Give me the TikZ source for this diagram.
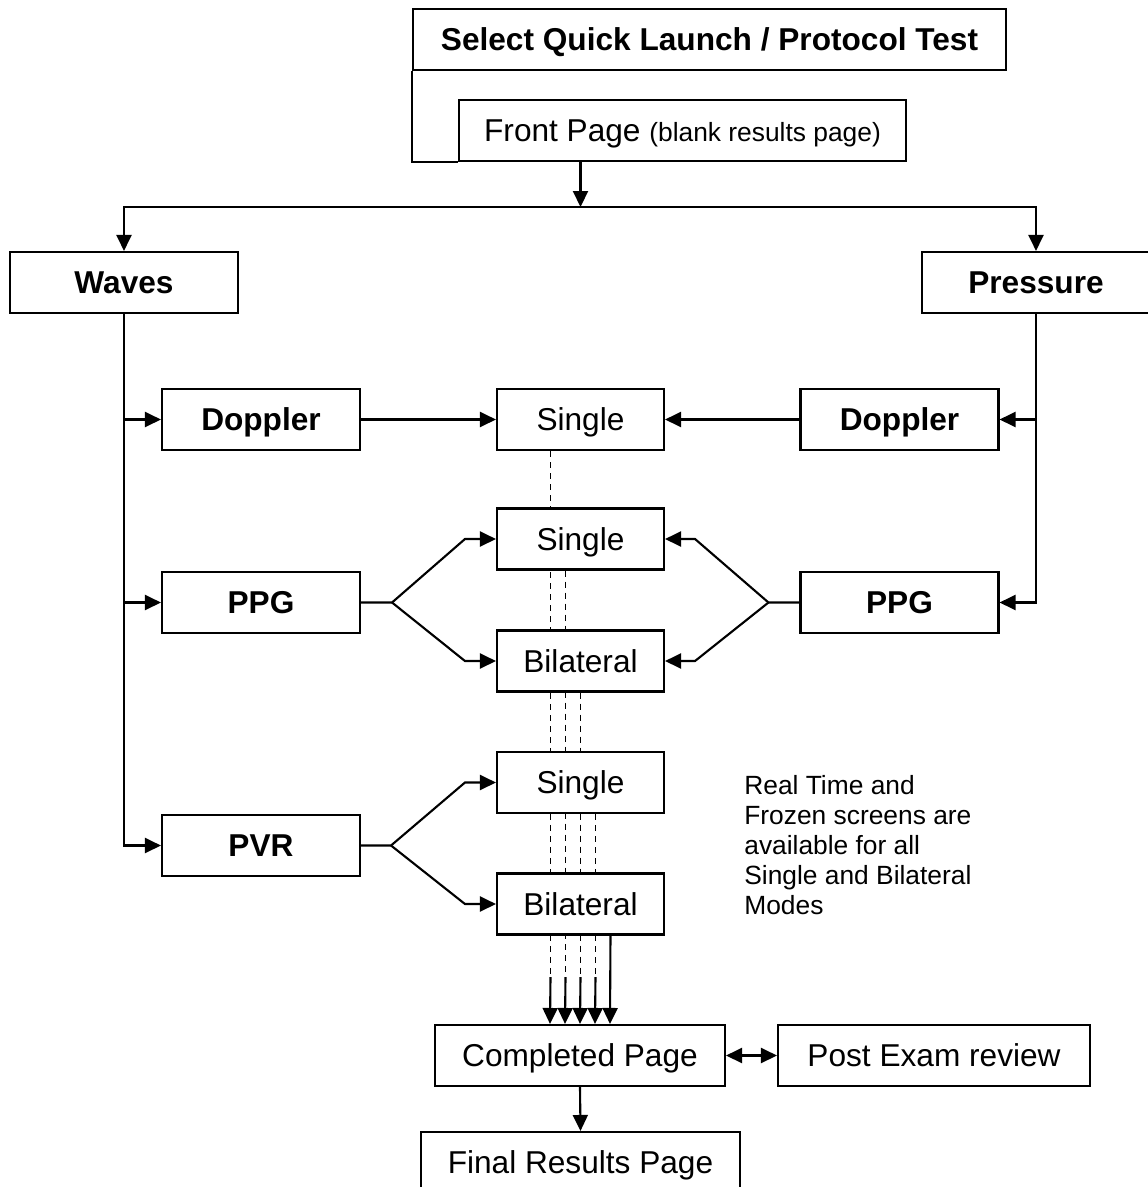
\documentclass[tikz,border=0pt]{standalone}
\usepackage{fontspec}
\setmainfont{Liberation Sans}
\usepackage{tikz}
\usetikzlibrary{arrows.meta,positioning,backgrounds}

\tikzset{
	box/.style={draw=black, fill=white, line width=1.2pt, inner sep=0pt, minimum height=1.22cm, text height=12.9pt, text depth=0pt, font=\fontsize{18}{21}\selectfont},
	boldbox/.style={box, font=\fontsize{18}{21}\selectfont\bfseries},
	wire/.style={draw=black, line width=1.2pt},
	link/.style={wire, -{Triangle[length=0.32cm,width=0.3cm]}},
	twolink/.style={wire, {Triangle[length=0.32cm,width=0.3cm]}-{Triangle[length=0.32cm,width=0.3cm]}},
	dashlink/.style={draw=black, line width=1pt, dash pattern=on 0.12cm off 0.1cm},
}

\begin{document}
\begin{tikzpicture}[x=0.02cm, y=-0.02cm]
	\useasboundingbox (0,0) rectangle (1148,1187);
	\node[boldbox, minimum width=11.86cm] (select) at (709.5,39.5) {Select Quick Launch / Protocol Test};
	\node[box, minimum width=8.94cm] (front) at (682.5,130.5) {Front Page {\fontsize{15}{18}\selectfont(blank results page)}};
	\draw[wire] (select.south west) |- (front.south west);
	\coordinate (split) at (580.5,207);
	\draw[link] (front.south -| split) -- (split);
	\node[boldbox, minimum width=4.56cm] (waves) at (124,282.5) {Waves};
	\node[boldbox, minimum width=4.56cm] (press) at (1036,282.5) {Pressure};
	\draw[link] (split) -| (waves.north);
	\draw[link] (split) -| (press.north);
	\node[boldbox, minimum width=3.96cm] (dopL) at (261,419.5) {Doppler};
	\node[boldbox, minimum width=3.96cm] (ppgL) at (261,602.5) {PPG};
	\node[boldbox, minimum width=3.96cm] (pvr) at (261,845.5) {PVR};
	\node[boldbox, minimum width=3.96cm] (dopR) at (899.5,419.5) {Doppler};
	\node[boldbox, minimum width=3.96cm] (ppgR) at (899.5,602.5) {PPG};
	\node[box, minimum width=3.34cm] (sgA) at (580.5,419.5) {Single};
	\node[box, minimum width=3.34cm] (sgB) at (580.5,539) {Single};
	\node[box, minimum width=3.34cm] (blA) at (580.5,661) {Bilateral};
	\node[box, minimum width=3.34cm] (sgC) at (580.5,782.5) {Single};
	\node[box, minimum width=3.34cm] (blB) at (580.5,904) {Bilateral};
	\node[box, minimum width=5.8cm] (done) at (580,1055.5) {Completed Page};
	\node[box, minimum width=6.24cm] (post) at (934,1055.5) {Post Exam review};
	\node[box, minimum width=6.38cm] (final) at (580.5,1162.5) {Final Results Page};
	\node[anchor=north west, inner sep=0pt, align=left, font=\fontsize{15}{17.1}\selectfont] (note) at (744,775) {Real Time and\\Frozen screens are\\available for all\\Single and Bilateral\\Modes};
	% waves and pressure branches
	\draw[link] (waves.south) |- (dopL.west);
	\draw[link] (waves.south) |- (ppgL.west);
	\draw[link] (waves.south) |- (pvr.west);
	\draw[link] (press.south) |- (dopR.east);
	\draw[link] (press.south) |- (ppgR.east);
	\draw[link] (dopL.east) -- (sgA.west);
	\draw[link] (dopR.west) -- (sgA.east);
	% forks
	\coordinate[right=0.62cm of ppgL] (forkL);
	\coordinate[left=0.62cm of ppgR] (forkR);
	\coordinate[right=0.6cm of pvr] (forkP);
	\draw[link] (ppgL.east) -- (forkL) -- ([xshift=-0.62cm]sgB.west) -- (sgB.west);
	\draw[link] (forkL) -- ([xshift=-0.62cm]blA.west) -- (blA.west);
	\draw[link] (ppgR.west) -- (forkR) -- ([xshift=0.6cm]sgB.east) -- (sgB.east);
	\draw[link] (forkR) -- ([xshift=0.6cm]blA.east) -- (blA.east);
	\draw[link] (pvr.east) -- (forkP) -- ([xshift=-0.62cm]sgC.west) -- (sgC.west);
	\draw[link] (forkP) -- ([xshift=-0.62cm]blB.west) -- (blB.west);
	% dashed lines down to the completed page
	\coordinate (merge) at (580.5,977);
	\begin{scope}[on background layer]
		\draw[dashlink] ([xshift=-0.6cm]sgA.south) -- ([xshift=-0.6cm]merge);
		\draw[dashlink] ([xshift=-0.3cm]sgB.south) -- ([xshift=-0.3cm]merge);
		\draw[dashlink] (blA.south) -- (merge);
		\draw[dashlink] ([xshift=0.3cm]sgC.south) -- ([xshift=0.3cm]merge);
	\end{scope}
	\draw[link] ([xshift=-0.6cm]merge) -- ([xshift=-0.6cm]done.north);
	\draw[link] ([xshift=-0.3cm]merge) -- ([xshift=-0.3cm]done.north);
	\draw[link] (merge) -- (done.north);
	\draw[link] ([xshift=0.3cm]merge) -- ([xshift=0.3cm]done.north);
	\draw[link] ([xshift=0.6cm]blB.south) -- ([xshift=0.6cm]done.north);
	\draw[twolink] (done.east) -- (post.west);
	\draw[link] (done.south) -- (final.north);
\end{tikzpicture}
\end{document}
